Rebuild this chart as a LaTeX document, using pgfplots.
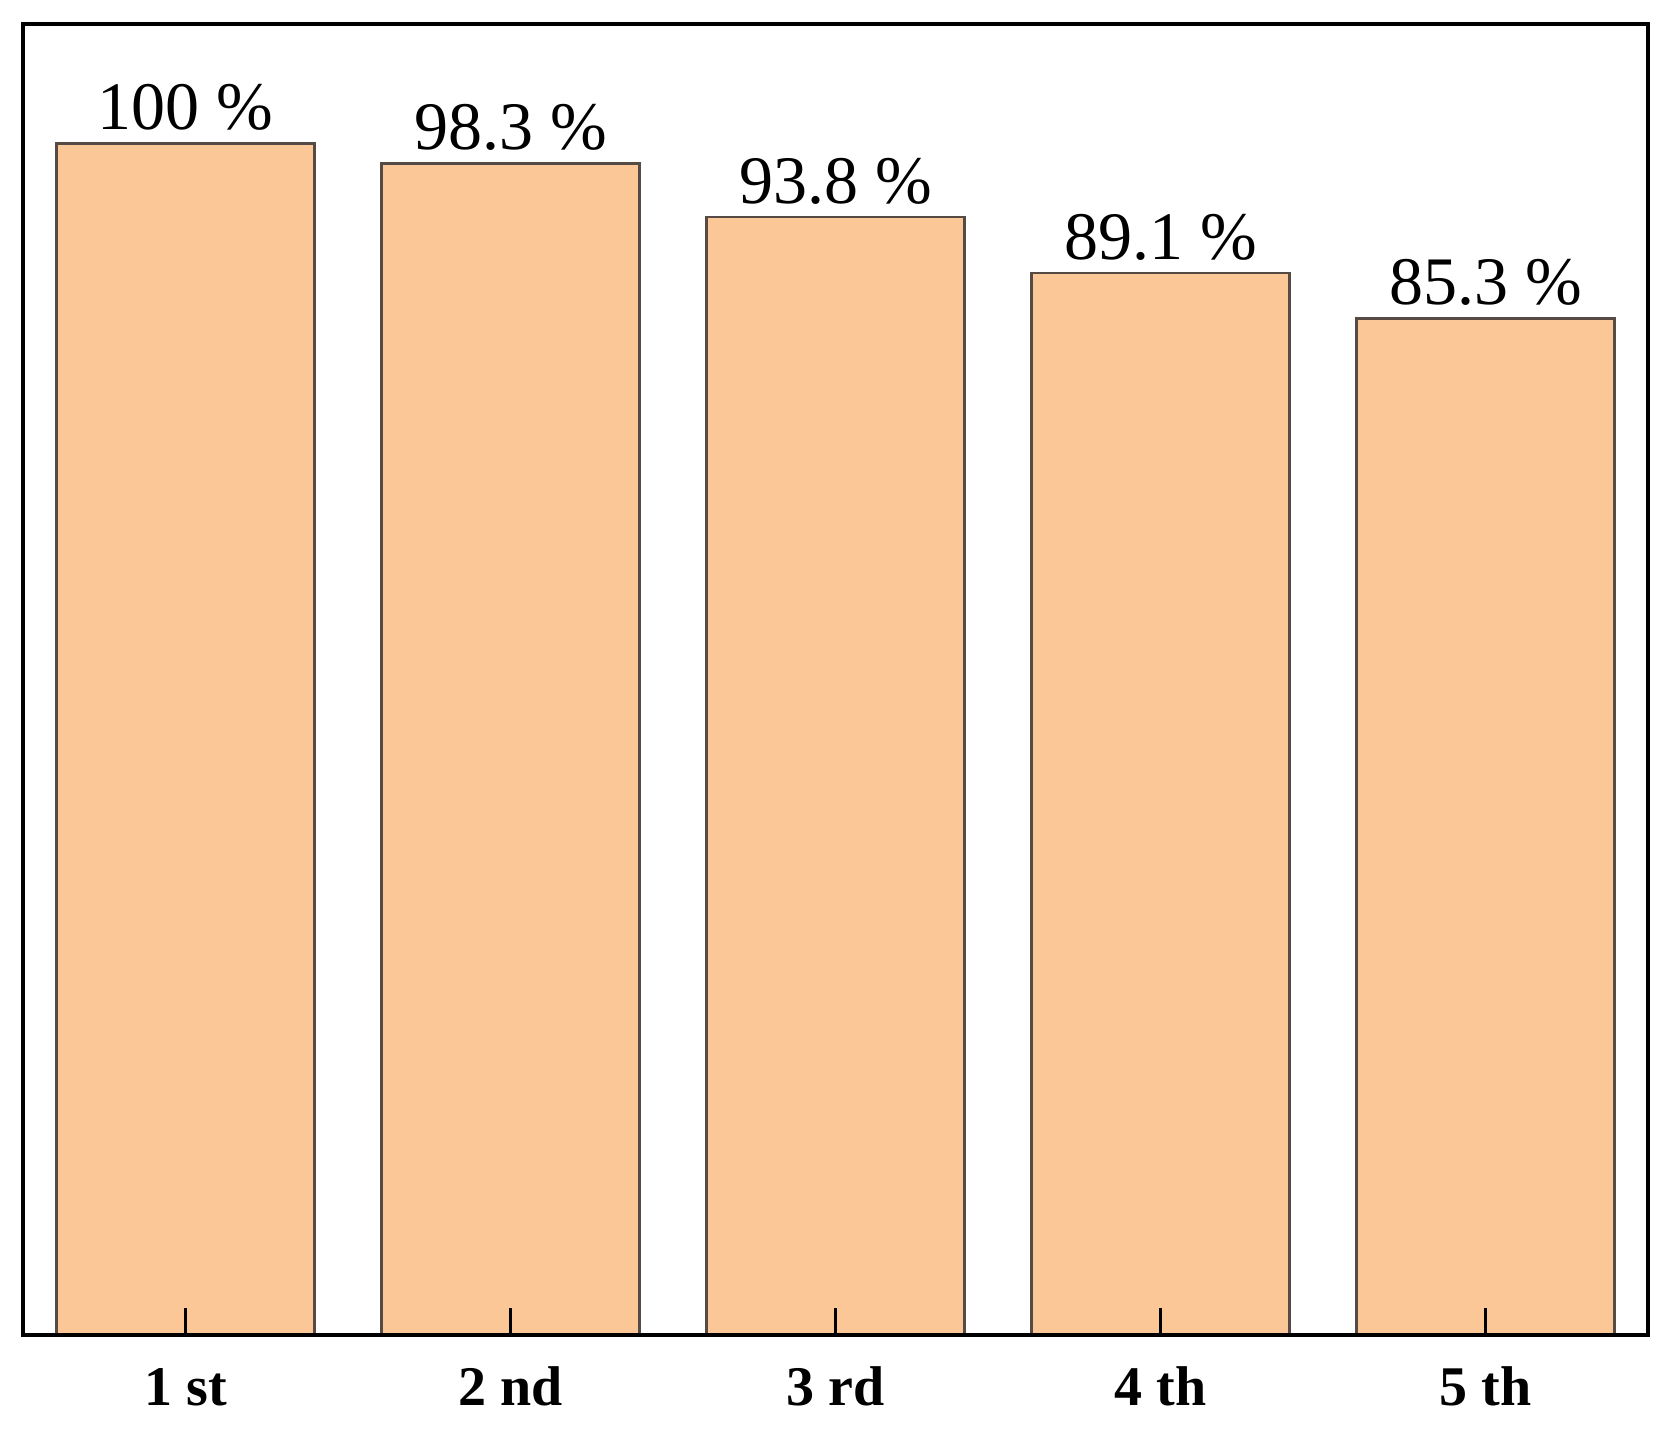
\documentclass[border=0pt]{standalone}
\usepackage{pgfplots}
\pgfplotsset{compat=1.18}
\usepackage{fontspec}
\setmainfont{Liberation Serif}
\definecolor{barfill}{RGB}{251,199,151}
\definecolor{baredge}{RGB}{85,75,68}
\begin{document}
\begin{tikzpicture}
\begin{axis}[
  scale only axis,
  width=406.25pt, height=327.75pt,
  xmin=-0.5, xmax=4.5, ymin=0, ymax=110,
  axis on top,
  axis line style={line width=0.9pt, black},
  xtick={0,1,2,3,4},
  xticklabels={1 st,2 nd,3 rd,4 th,5 th},
  xtick pos=bottom,
  tick align=inside,
  major tick length=6.75pt,
  xtick style={line width=0.9pt, black},
  ytick=\empty,
  xticklabel style={font=\fontsize{14}{16}\selectfont\bfseries, anchor=base, yshift=-17.5pt},
  point meta=explicit symbolic,
  nodes near coords,
  nodes near coords style={font=\fontsize{17}{20}\selectfont, anchor=base, inner sep=0pt, yshift=3.5pt},
]
\addplot[ybar, bar width=64.5pt, fill=barfill, draw=baredge, line width=0.7pt]
  coordinates {(0,100) [100 \%] (1,98.3) [98.3 \%] (2,93.8) [93.8 \%] (3,89.1) [89.1 \%] (4,85.3) [85.3 \%]};
\coordinate (bbA) at (rel axis cs:-0.01415,-0.0709);
\coordinate (bbB) at (rel axis cs:1.01538,1.01831);
\end{axis}
\path (bbA) rectangle (bbB);
\end{tikzpicture}
\end{document}
